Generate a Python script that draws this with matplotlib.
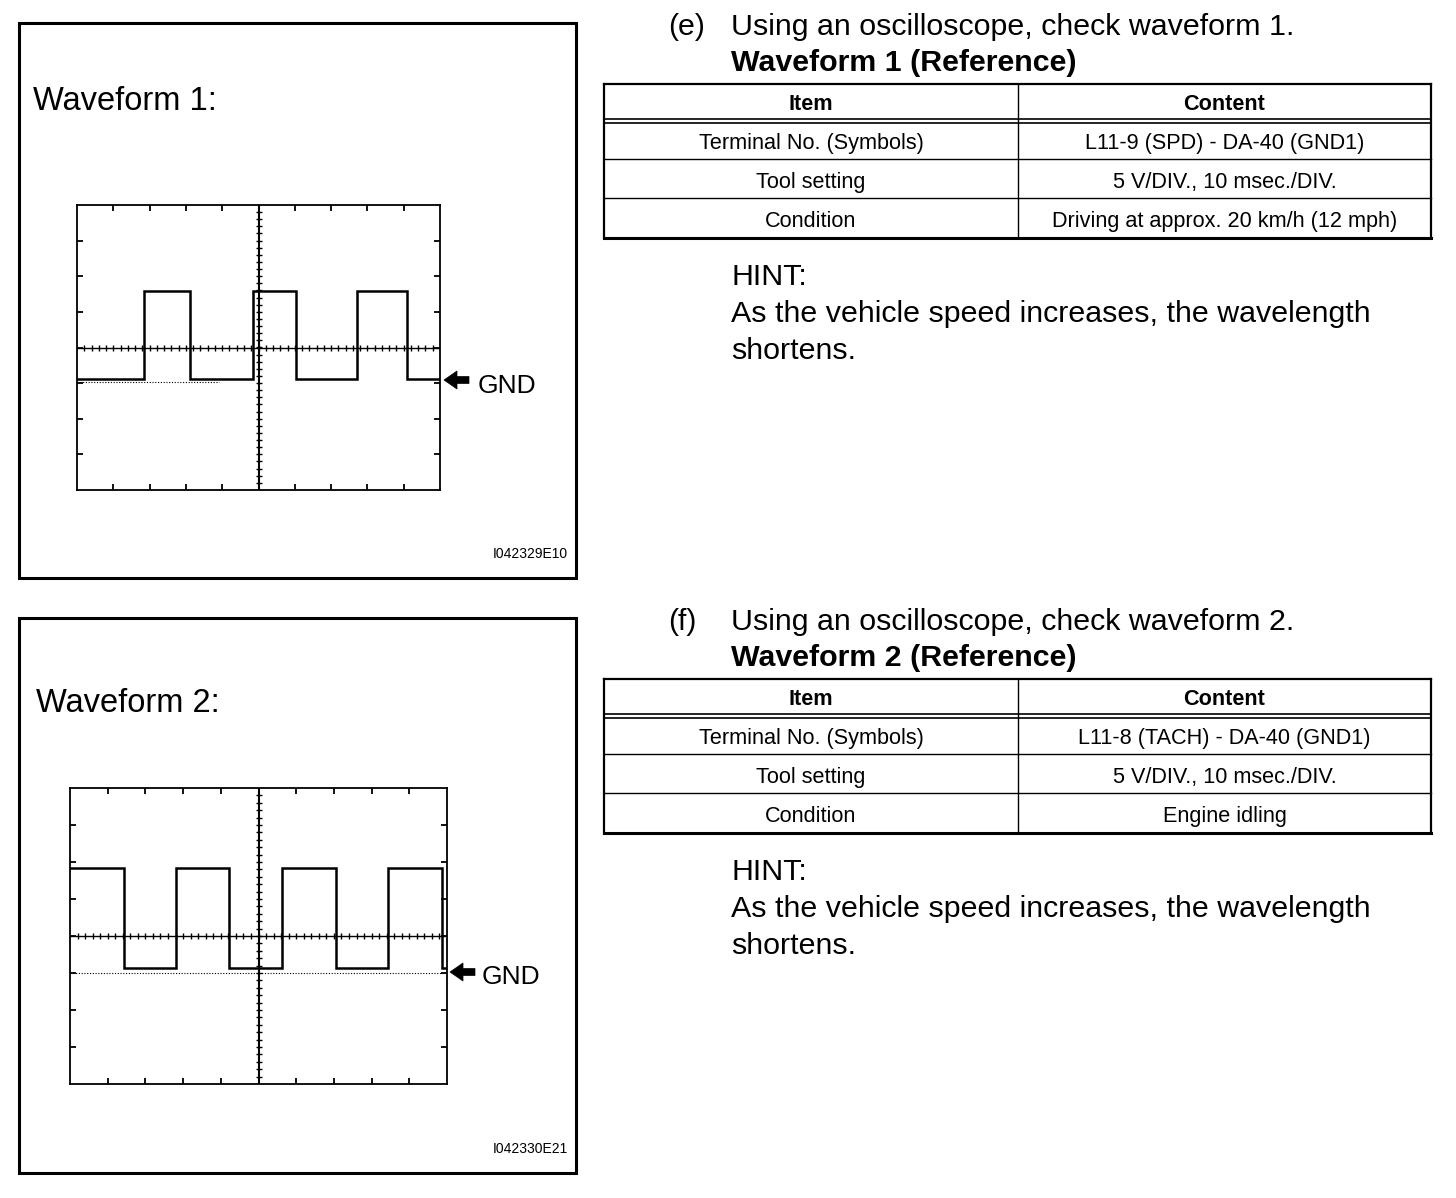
import matplotlib
matplotlib.use("Agg")
import matplotlib.pyplot as plt
from matplotlib.patches import Rectangle, Polygon
import numpy as np

plt.rcParams['font.family'] = ['Liberation Sans', 'DejaVu Sans']

# ---------------- data ----------------
# Waveform 1 (speed signal): edge times in divisions, levels in divisions
w1_edges = [1.85, 3.12, 4.86, 6.02, 7.71, 9.09]
w1_high = 1.60
w1_low = -0.88
w1_start_high = False
w1_gnd = -0.97

# Waveform 2 (tach signal)
w2_edges = [1.43, 2.80, 4.22, 5.63, 7.05, 8.44, 9.86]
w2_high = 1.85
w2_low = -0.87
w2_start_high = True
w2_gnd = -0.99

table_header = ["Item", "Content"]
table_items = ["Terminal No. (Symbols)", "Tool setting", "Condition"]
table1_content = ["L11-9 (SPD) - DA-40 (GND1)", "5 V/DIV., 10 msec./DIV.",
                  "Driving at approx. 20 km/h (12 mph)"]
table2_content = ["L11-8 (TACH) - DA-40 (GND1)", "5 V/DIV., 10 msec./DIV.",
                  "Engine idling"]

panel_titles = ["Waveform 1:", "Waveform 2:"]
panel_ids = ["I042329E10", "I042330E21"]
step_labels = ["(e)", "(f)"]
step_texts = ["Using an oscilloscope, check waveform 1.",
              "Using an oscilloscope, check waveform 2."]
ref_titles = ["Waveform 1 (Reference)", "Waveform 2 (Reference)"]
hint_lines = ["HINT:", "As the vehicle speed increases, the wavelength", "shortens."]

# ---------------- figure ----------------
W, H = 1456, 1198
fig = plt.figure(figsize=(W / 100, H / 100), dpi=100)
bg = fig.add_axes([0, 0, 1, 1])
bg.set_xlim(0, W)
bg.set_ylim(H, 0)
bg.axis('off')

def px_axes(x0, y0, x1, y1):
    return fig.add_axes([x0 / W, 1 - y1 / H, (x1 - x0) / W, (y1 - y0) / H])

def square_wave(edges, high, low, start_high):
    xs, ys = [0.0], []
    lvl = high if start_high else low
    ys.append(lvl)
    for e in edges:
        xs += [e, e]
        ys += [lvl, high if lvl == low else low]
        lvl = high if lvl == low else low
    xs.append(10.0)
    ys.append(lvl)
    return xs, ys

def scope(ax, edges, high, low, start_high, gnd, gnd_span):
    ax.set_xlim(0, 10)
    ax.set_ylim(-4, 4)
    for s in ax.spines.values():
        s.set_linewidth(1.3)
    ax.set_xticks(np.arange(1, 10))
    ax.set_yticks(np.arange(-3, 4))
    ax.tick_params(direction='in', length=4, width=1.3, top=True, right=True,
                   labelbottom=False, labelleft=False)
    ax.axhline(0, color='black', lw=1.0)
    ax.axvline(5, color='black', lw=1.5)
    mx = np.arange(0.2, 10, 0.2)
    ax.plot(mx, np.zeros_like(mx), ls='none', marker='|', ms=4, mew=1.0, color='black')
    my = np.arange(-3.8, 4, 0.2)
    ax.plot(np.full_like(my, 5), my, ls='none', marker='_', ms=4, mew=1.0, color='black')
    ax.plot([0, gnd_span], [gnd, gnd], ls=(0, (1, 1.5)), lw=0.8, color='black')
    xs, ys = square_wave(edges, high, low, start_high)
    ax.plot(xs, ys, color='black', lw=1.8, solid_joinstyle='miter')

# panel boxes
offsets = [0, 595]
for k, off in enumerate(offsets):
    bg.add_patch(Rectangle((19, 23 + off), 557, 555, fill=False, lw=2.2, ec='black'))
    bg.text(568, 558 + off, panel_ids[k], ha='right', va='baseline', fontsize=10)

bg.text(33, 110, panel_titles[0], ha='left', va='baseline', fontsize=23.5)
bg.text(36, 712, panel_titles[1], ha='left', va='baseline', fontsize=23.5)

ax1 = px_axes(77, 205, 440, 490)
scope(ax1, w1_edges, w1_high, w1_low, w1_start_high, w1_gnd, 3.9)
ax2 = px_axes(70, 788, 447, 1084)
scope(ax2, w2_edges, w2_high, w2_low, w2_start_high, w2_gnd, 10)

# GND arrows
def gnd_arrow(xtip, y, xtext, ybase):
    bg.add_patch(Polygon([[xtip, y], [xtip + 13, y - 9], [xtip + 13, y - 3.5],
                          [xtip + 25, y - 3.5], [xtip + 25, y + 3.5],
                          [xtip + 13, y + 3.5], [xtip + 13, y + 9]],
                         closed=True, fc='black', ec='black', lw=0.5))
    bg.text(xtext, ybase, "GND", ha='left', va='baseline', fontsize=19)

gnd_arrow(444, 380, 478, 393)
gnd_arrow(450, 972, 482, 984)

# right column
for k, off in enumerate(offsets):
    content = [table1_content, table2_content][k]
    bg.text(668, 35 + off, step_labels[k], ha='left', va='baseline', fontsize=21.9)
    bg.text(731, 35 + off, step_texts[k], ha='left', va='baseline', fontsize=21.9)
    bg.text(731, 71 + off, ref_titles[k], ha='left', va='baseline', fontsize=21.9,
            fontweight='bold')
    # table
    xl, xm, xr = 604, 1018, 1431
    top, d1, d2, r1, r2, bot = 84, 118.5, 122.5, 159, 198, 237.5
    bg.plot([xl, xr], [top + off] * 2, color='black', lw=1.6)
    bg.plot([xl, xr], [d1 + off] * 2, color='black', lw=1.2)
    bg.plot([xl, xr], [d2 + off] * 2, color='black', lw=1.2)
    bg.plot([xl, xr], [r1 + off] * 2, color='black', lw=1.0)
    bg.plot([xl, xr], [r2 + off] * 2, color='black', lw=1.0)
    bg.plot([xl, xr], [bot + off] * 2, color='black', lw=2.2)
    bg.plot([xl, xl], [top + off, bot + off], color='black', lw=1.6)
    bg.plot([xr, xr], [top + off, bot + off], color='black', lw=1.6)
    bg.plot([xm, xm], [top + off, bot + off], color='black', lw=1.0)
    cl, cr = (xl + xm) / 2, (xm + xr) / 2
    bg.text(cl, 110 + off, table_header[0], ha='center', va='baseline',
            fontsize=15.6, fontweight='bold')
    bg.text(cr, 110 + off, table_header[1], ha='center', va='baseline',
            fontsize=15.6, fontweight='bold')
    for i, yb in enumerate([149, 188, 227]):
        bg.text(cl, yb + off, table_items[i], ha='center', va='baseline', fontsize=15.6)
        bg.text(cr, yb + off, content[i], ha='center', va='baseline', fontsize=15.6)
    for j, yb in enumerate([285, 322, 359]):
        bg.text(731, yb + off, hint_lines[j], ha='left', va='baseline', fontsize=21.9)

fig.savefig("out.png", dpi=100, facecolor='white')
